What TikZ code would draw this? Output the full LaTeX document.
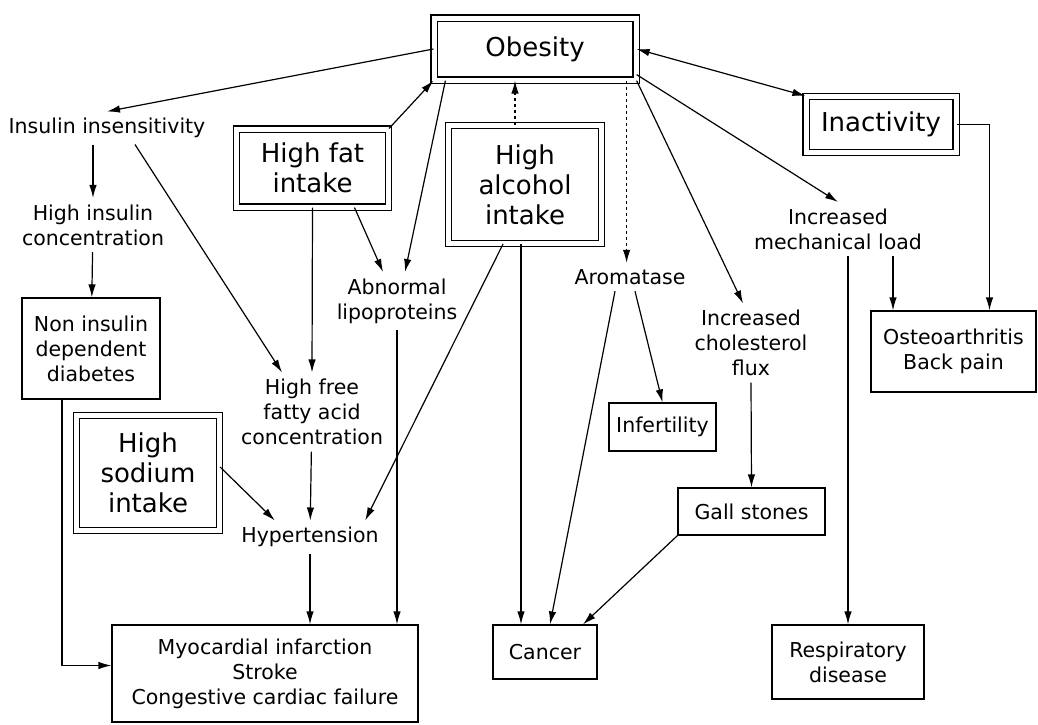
\documentclass[tikz,border=0pt]{standalone}
\usepackage{fontspec}
\setmainfont{DejaVu Sans}
\usetikzlibrary{arrows.meta}

\begin{document}
\begin{tikzpicture}[x=1pt,y=-1pt,line width=1.2pt,
	arr/.style={-{Latex[length=13pt,width=7.5pt]}},
	lbl/.style={align=center,inner sep=6pt,font=\fontsize{20.5}{25}\selectfont},
	box/.style={draw,align=center,inner sep=0pt,font=\fontsize{20.5}{25}\selectfont},
	dbox/.style={draw,double,double distance=5pt,align=center,inner sep=0pt,font=\fontsize{26}{30}\selectfont}]
	\useasboundingbox (0,0) rectangle (1038,724);
	
	% boxed factors
	\node[dbox,minimum width=202pt,minimum height=62pt] (obesity) at (535,49) {Obesity};
	\node[dbox,minimum width=152pt,minimum height=78pt] (fat) at (312.5,168) {High fat\\intake};
	\node[dbox,minimum width=153pt,minimum height=118pt] (alcohol) at (525,184.5) {High\\alcohol\\intake};
	\node[dbox,minimum width=150pt,minimum height=56pt] (inact) at (881,124.5) {Inactivity};
	\node[dbox,minimum width=143pt,minimum height=115pt] (sodium) at (148,473) {High\\sodium\\intake};
	
	% boxed outcomes
	\node[box,minimum width=138pt,minimum height=101pt] (niddm) at (91,348.5) {Non insulin\\dependent\\diabetes};
	\node[box,minimum width=107pt,minimum height=48pt] (infert) at (662.5,427) {Infertility};
	\node[box,minimum width=147pt,minimum height=47pt] (gall) at (751.5,511.5) {Gall stones};
	\node[box,minimum width=104pt,minimum height=54pt] (cancer) at (545,652) {Cancer};
	\node[box,minimum width=152pt,minimum height=74pt] (resp) at (848,662) {Respiratory\\disease};
	\node[box,minimum width=165pt,minimum height=81pt] (osteo) at (953.5,351.5) {Osteoarthritis\\Back pain};
	\node[box,minimum width=306pt,minimum height=97pt] (myo) at (265,673.5) {Myocardial infarction\\Stroke\\Congestive cardiac failure};
	
	% intermediate states
	\node[lbl] (insulin) at (107,128) {Insulin insensitivity};
	\node[lbl] (hiins) at (93,225) {High insulin\\concentration};
	\node[lbl] (hiffa) at (312,412) {High free\\fatty acid\\concentration};
	\node[lbl] (abnlip) at (397,301) {Abnormal\\lipoproteins};
	\node[lbl] (hypert) at (310,537) {Hypertension};
	\node[lbl] (arom) at (630,277) {Aromatase};
	\node[lbl] (chol) at (751,343) {Increased\\cholesterol\\flux};
	\node[lbl] (mech) at (838,229) {Increased\\mechanical load};
	
	% left part
	\draw[arr] (obesity.west) -- (insulin.north);
	\draw[arr] (insulin.south -| hiins) -- (hiins);
	\draw[arr] (hiins) -- (niddm);
	\draw[arr] ([xshift=-29pt]niddm.south) |- ([yshift=8pt]myo.west);
	\draw[arr] ([xshift=28pt]insulin.south) -- ([xshift=-30pt]hiffa.north);
	\draw[arr] (fat.south) -- (hiffa.north);
	\draw[arr] (fat.north east) -- (obesity.south west);
	\draw[arr] ([xshift=42pt]fat.south) -- ([xshift=-14pt]abnlip.north);
	\draw[arr] ([xshift=12pt]obesity.south west) -- ([xshift=8pt]abnlip.north);
	\draw[arr] (abnlip.south) -- (abnlip.south |- myo.north);
	\draw[arr] ([yshift=6pt]sodium.east) -- ([xshift=40pt]hypert.north west);
	\draw[arr] (hiffa) -- (hypert);
	\draw[arr] (hypert.south) -- (hypert.south |- myo.north);
	
	% middle part
	\draw[arr,dashed] ([xshift=-10pt]alcohol.north) -- ([xshift=-10pt]alcohol.north |- obesity.south);
	\draw[arr] ([xshift=-4pt]alcohol.south) -- ([xshift=-4pt]alcohol.south |- cancer.north);
	\draw[arr] ([xshift=-22pt]alcohol.south) -- ([xshift=-20pt]hypert.north east);
	\draw[arr,dashed] ([xshift=-10pt]obesity.south east) -- ([xshift=-10pt]obesity.south east |- arom.north);
	\draw[arr] ([xshift=-15pt]arom.south) -- ([xshift=5pt]cancer.north);
	\draw[arr] ([xshift=5pt]arom.south) -- (infert.north);
	\draw[arr] (obesity.south east) -- ([xshift=-8pt]chol.north);
	\draw[arr] (chol.south) -- (gall.north);
	\draw[arr] (gall.south west) -- ([xshift=38pt]cancer.north);
	
	% right part
	\draw[arr] ([yshift=6pt]obesity.south east) -- (mech.north);
	\draw[arr] (mech.south -| resp.north) -- (resp.north);
	\draw[arr] ([xshift=55pt]mech.south) -- ([xshift=55pt]mech.south |- osteo.north);
	\draw[{Latex[length=13pt,width=7.5pt]}-{Latex[length=13pt,width=7.5pt]}] (obesity.east) -- (inact.north west);
	\draw[arr] (inact.east) -| ([xshift=36pt]osteo.north);
\end{tikzpicture}
\end{document}
